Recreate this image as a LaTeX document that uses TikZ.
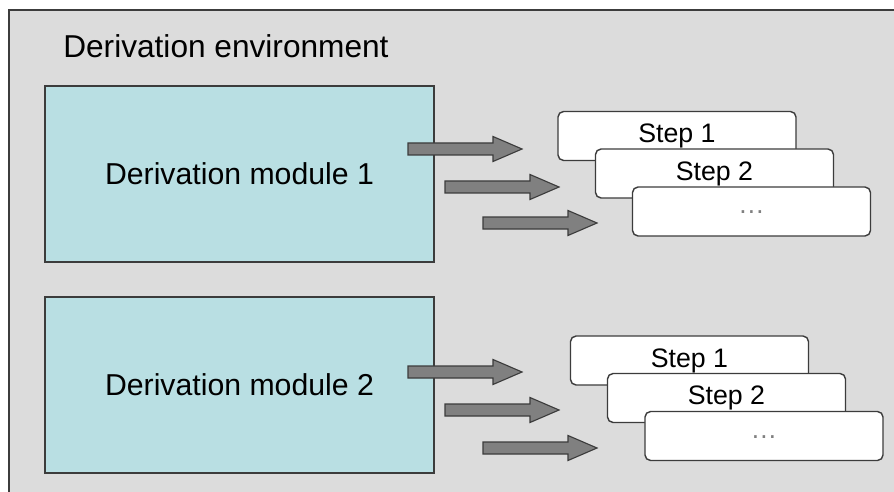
\documentclass[tikz,border=0pt]{standalone}
\usepackage{fontspec}
\setmainfont{Liberation Sans}
\usepackage{xcolor}
\usetikzlibrary{positioning}

\definecolor{envgrey}{HTML}{DCDCDC}
\definecolor{modcyan}{HTML}{B9DFE3}
\definecolor{arrowgrey}{HTML}{808080}
\definecolor{edgegrey}{HTML}{3C3C3C}

% fat grey arrow, starting at (#1,#2)
\newcommand{\fatarrow}[2]{%
    \draw[fatarrow] (#1,#2) ++(0,-6) -- ++(85,0) -- ++(0,-6.5) -- ++(29,12.5)
        -- ++(-29,12.5) -- ++(0,-6.5) -- ++(-85,0) -- cycle;}

\begin{document}
\begin{tikzpicture}[
    x=0.025cm, y=-0.025cm,
    module/.style={rectangle, draw=edgegrey, line width=1.4pt, fill=modcyan,
        minimum width=9.725cm, minimum height=4.4cm, align=center,
        font=\fontsize{21.5}{24}\selectfont},
    stepbox/.style={rectangle, rounded corners=4pt, draw=edgegrey, line width=1pt,
        fill=white, minimum width=5.95cm, minimum height=1.225cm,
        font=\fontsize{19}{22}\selectfont},
    fatarrow/.style={draw=edgegrey, line width=0.8pt, fill=arrowgrey}
]
    \useasboundingbox (0,0) rectangle (894,492);
    \clip (0,0) rectangle (894,492);

    % Environment
    \draw[draw=edgegrey, line width=1.4pt, fill=envgrey] (9,10) rectangle (905,505);
    \node[anchor=west, inner sep=0, font=\fontsize{22.5}{26}\selectfont] (envtitle)
        at (63,46) {Derivation environment};

    % Modules
    \node[module] (module1) at (239.5,174) {Derivation module 1};
    \node[module] (module2) at (239.5,385) {Derivation module 2};

    % Steps of module 1
    \node[stepbox] (stepA1) at (677,136) {Step 1};
    \node[stepbox] (stepA2) at (714.5,173.5) {Step 2};
    \node[stepbox, text=gray] (stepA3) at (751.5,211.5) {\raisebox{-0.35ex}{\ldots}};

    % Steps of module 2
    \node[stepbox] (stepB1) at (689.5,360.5) {Step 1};
    \node[stepbox] (stepB2) at (726.5,398) {Step 2};
    \node[stepbox, text=gray] (stepB3) at (764,436) {\raisebox{-0.35ex}{\ldots}};

    % Arrows
    \fatarrow{408}{149}
    \fatarrow{445}{187}
    \fatarrow{483}{223}
    \fatarrow{408}{372}
    \fatarrow{445}{410}
    \fatarrow{483}{448}
\end{tikzpicture}
\end{document}
